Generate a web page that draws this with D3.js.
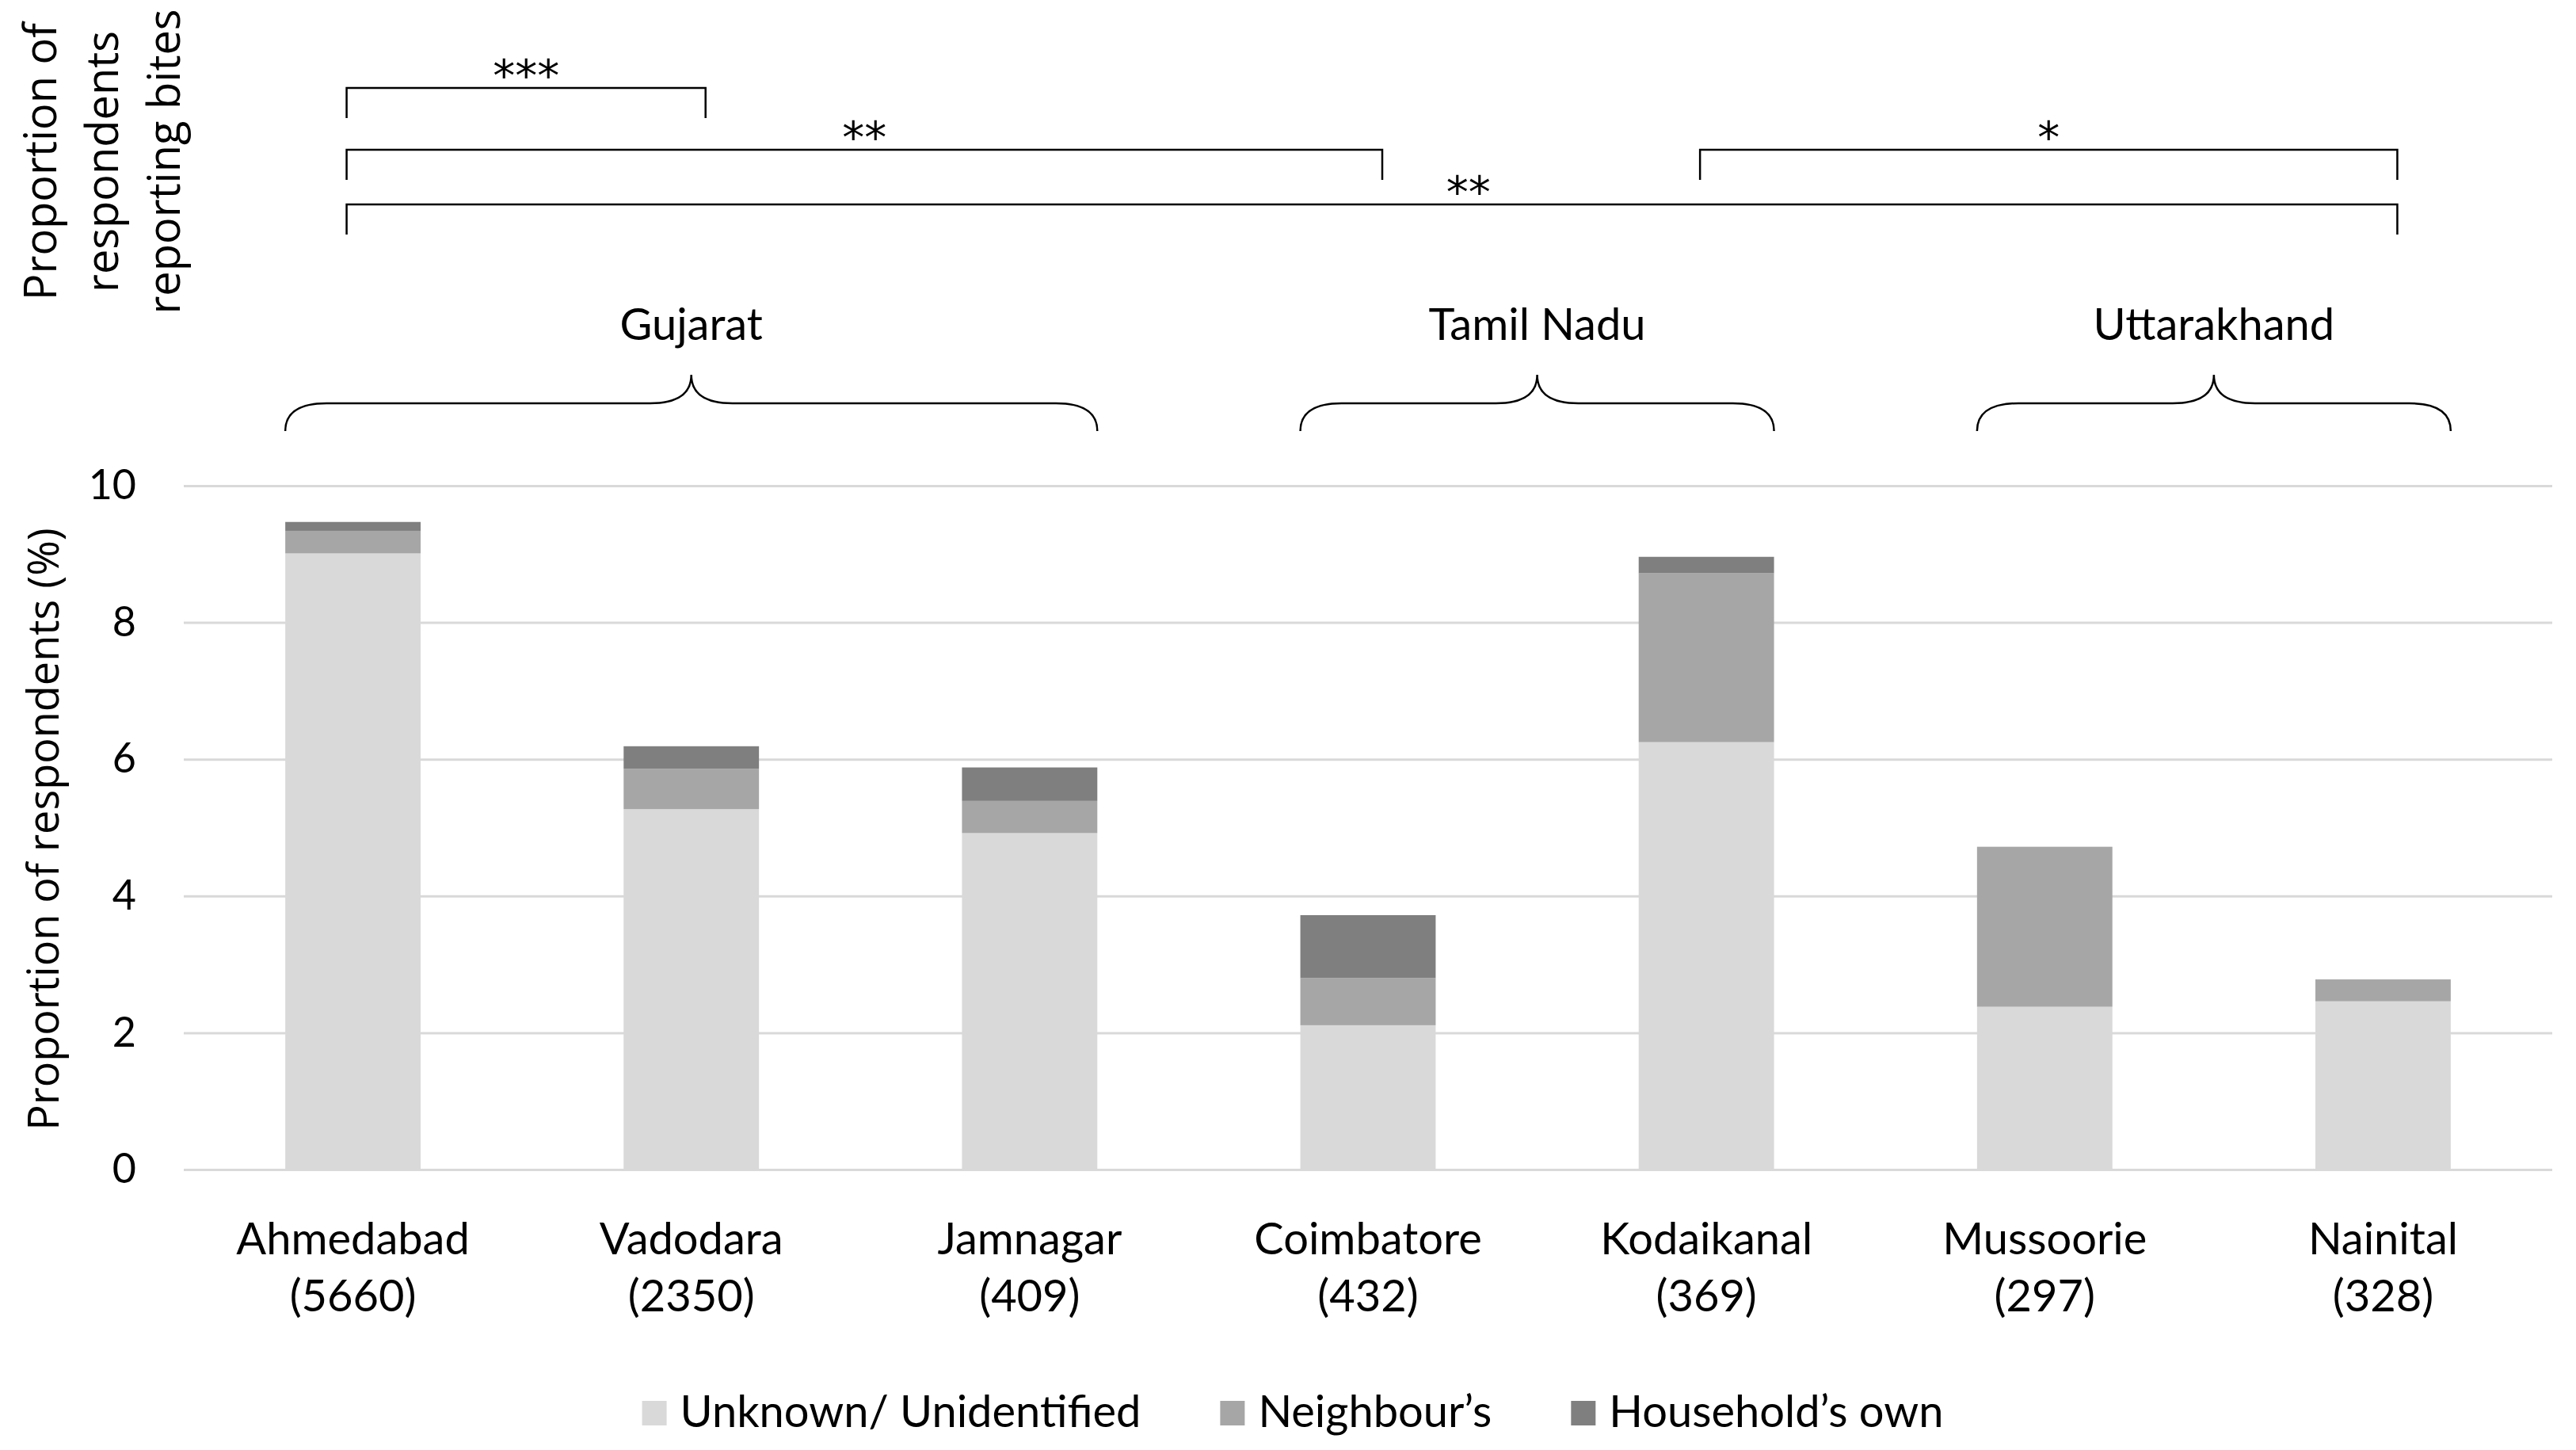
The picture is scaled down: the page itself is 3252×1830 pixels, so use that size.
<!DOCTYPE html>
<html>
<head>
<meta charset="utf-8">
<script src="https://cdn.jsdelivr.net/npm/d3@7"></script>
<style>
  html, body { margin: 0; padding: 0; background: #fff; }
  svg { display: block; }
</style>
</head>
<body>
<svg id="chart" width="3252" height="1830"></svg>
<script>
// ---------- data ----------
const categories = ["Ahmedabad", "Vadodara", "Jamnagar", "Coimbatore", "Kodaikanal", "Mussoorie", "Nainital"];
const sampleSizes = ["5660", "2350", "409", "432", "369", "297", "328"];
const unknownVals = [9.01, 5.27, 4.92, 2.11, 6.25, 2.38, 2.46];
const neighbourVals = [0.33, 0.59, 0.47, 0.69, 2.47, 2.34, 0.32];
const householdVals = [0.13, 0.33, 0.49, 0.92, 0.24, 0, 0];
const seriesNames = ["Unknown/ Unidentified", "Neighbour’s", "Household’s own"];
const seriesKeys = ["unknown", "neighbour", "household"];
const seriesColors = ["#d9d9d9", "#a6a6a6", "#7f7f7f"];
const yTicks = [0, 2, 4, 6, 8, 10];
const stateNames = ["Gujarat", "Tamil Nadu", "Uttarakhand"];
const stateFirst = ["Ahmedabad", "Coimbatore", "Mussoorie"];
const stateLast = ["Jamnagar", "Kodaikanal", "Nainital"];
const bracketFrom = ["Ahmedabad", "Ahmedabad", "Kodaikanal", "Ahmedabad"];
const bracketTo = ["Vadodara", "Coimbatore", "Nainital", "Nainital"];
const bracketLabels = ["***", "**", "*", "**"];
const bracketLevel = [0, 1, 1, 2];
const bracketLabelFrac = [0.5, 0.5, 0.5, 0.547];
const yTitle = "Proportion of respondents (%)";
const topTitle = ["Proportion of", "respondents", "reporting bites"];

// ---------- layout ----------
const W = 3252, H = 1830;
const plotL = 232, plotR = 3222, plotT = 613, plotB = 1476;
const svg = d3.select("#chart");
svg.append("rect").attr("width", W).attr("height", H).attr("fill", "#fff");

const labelFont = "Lato, 'Open Sans', sans-serif";
const titleFont = "'Open Sans', 'Noto Sans', sans-serif";
const starFont = "'DejaVu Sans', sans-serif";

const x = d3.scaleBand().domain(categories).range([plotL, plotR]).paddingInner(0.6).paddingOuter(0.3);
const y = d3.scaleLinear().domain([0, 10]).range([plotB, plotT]);

// gridlines + y ticks
const yAxis = svg.append("g")
  .attr("transform", `translate(${plotL},0)`)
  .call(d3.axisLeft(y).tickValues(yTicks).tickSize(-(plotR - plotL)).tickPadding(60));
yAxis.select(".domain").remove();
yAxis.selectAll(".tick line").attr("stroke", "#d9d9d9").attr("stroke-width", 3);
yAxis.selectAll(".tick text")
  .attr("font-family", labelFont).attr("font-size", 52).attr("fill", "#000");

// stacked bars
const rows = categories.map((c, i) => ({ cat: c, unknown: unknownVals[i], neighbour: neighbourVals[i], household: householdVals[i] }));
const stacked = d3.stack().keys(seriesKeys)(rows);
const barG = svg.append("g");
stacked.forEach((layer, li) => {
  barG.append("g").attr("fill", seriesColors[li])
    .selectAll("rect").data(layer.filter(d => d[1] - d[0] > 0)).join("rect")
    .attr("x", d => x(d.data.cat))
    .attr("width", x.bandwidth())
    .attr("y", d => y(d[1]))
    .attr("height", d => y(d[0]) - y(d[1]));
});

// x category labels
const xAxis = svg.append("g").attr("transform", `translate(0,${plotB})`)
  .call(d3.axisBottom(x).tickSize(0).tickFormat(""));
xAxis.select(".domain").remove();
xAxis.selectAll(".tick").each(function(d) {
  const i = categories.indexOf(d);
  const t = d3.select(this).append("text")
    .attr("font-family", labelFont).attr("font-size", 56).attr("fill", "#000")
    .attr("text-anchor", "middle");
  t.append("tspan").attr("x", 0).attr("y", 107).text(d);
  t.append("tspan").attr("x", 0).attr("y", 179).text(`(${sampleSizes[i]})`);
});

// y axis title
svg.append("text")
  .attr("transform", `translate(74,${(plotT + plotB) / 2 + 2}) rotate(-90)`)
  .attr("text-anchor", "middle")
  .attr("font-family", titleFont).attr("font-size", 54).attr("fill", "#000")
  .text(yTitle);

// top-left title
const tt = svg.append("text")
  .attr("transform", `translate(0,204) rotate(-90)`)
  .attr("text-anchor", "middle")
  .attr("font-family", titleFont).attr("font-size", 56).attr("fill", "#000");
topTitle.forEach((s, i) => tt.append("tspan").attr("x", 0).attr("y", 71 + i * 78).text(s));

// state braces
const cx = c => x(c) + x.bandwidth() / 2;
const braceTop = 473, braceMid = 509, braceBot = 544;
stateNames.forEach((s, i) => {
  const x0 = x(stateFirst[i]);
  const x1 = x(stateLast[i]) + x.bandwidth();
  const xm = (x0 + x1) / 2;
  const r = 52;
  const p = d3.path();
  p.moveTo(x0, braceBot);
  p.quadraticCurveTo(x0, braceMid, x0 + r, braceMid);
  p.lineTo(xm - r, braceMid);
  p.quadraticCurveTo(xm, braceMid, xm, braceTop);
  p.quadraticCurveTo(xm, braceMid, xm + r, braceMid);
  p.lineTo(x1 - r, braceMid);
  p.quadraticCurveTo(x1, braceMid, x1, braceBot);
  svg.append("path").attr("d", p.toString()).attr("fill", "none")
    .attr("stroke", "#000").attr("stroke-width", 2.5);
  svg.append("text").attr("x", xm).attr("y", 429).attr("text-anchor", "middle")
    .attr("font-family", labelFont).attr("font-size", 56).attr("fill", "#000").text(s);
});

// significance brackets
const levelTop = [111, 189, 258];
const tickLen = 38;
bracketFrom.forEach((f, i) => {
  const a = cx(f) - 8, b = cx(bracketTo[i]) + 18;
  const yt = levelTop[bracketLevel[i]];
  svg.append("path")
    .attr("d", `M${a},${yt + tickLen}V${yt}H${b}V${yt + tickLen}`)
    .attr("fill", "none").attr("stroke", "#000").attr("stroke-width", 2.5);
  svg.append("text").attr("x", a + (b - a) * bracketLabelFrac[i]).attr("y", yt + 4)
    .attr("text-anchor", "middle")
    .attr("font-family", starFont).attr("font-size", 56).attr("fill", "#000")
    .text(bracketLabels[i]);
});

// legend
const leg = svg.append("g");
let lx = 0;
const sw = 31, gapText = 17, gapItem = 100;
seriesNames.forEach((n, i) => {
  leg.append("rect").attr("x", lx).attr("y", 1768).attr("width", sw).attr("height", sw).attr("fill", seriesColors[i]);
  const t = leg.append("text").attr("x", lx + sw + gapText).attr("y", 1801)
    .attr("font-family", labelFont).attr("font-size", 56).attr("fill", "#000").text(n);
  lx += sw + gapText + t.node().getComputedTextLength() + gapItem;
});
const legW = lx - gapItem;
leg.attr("transform", `translate(${(W - legW) / 2 + 6},0)`);
</script>
</body>
</html>
